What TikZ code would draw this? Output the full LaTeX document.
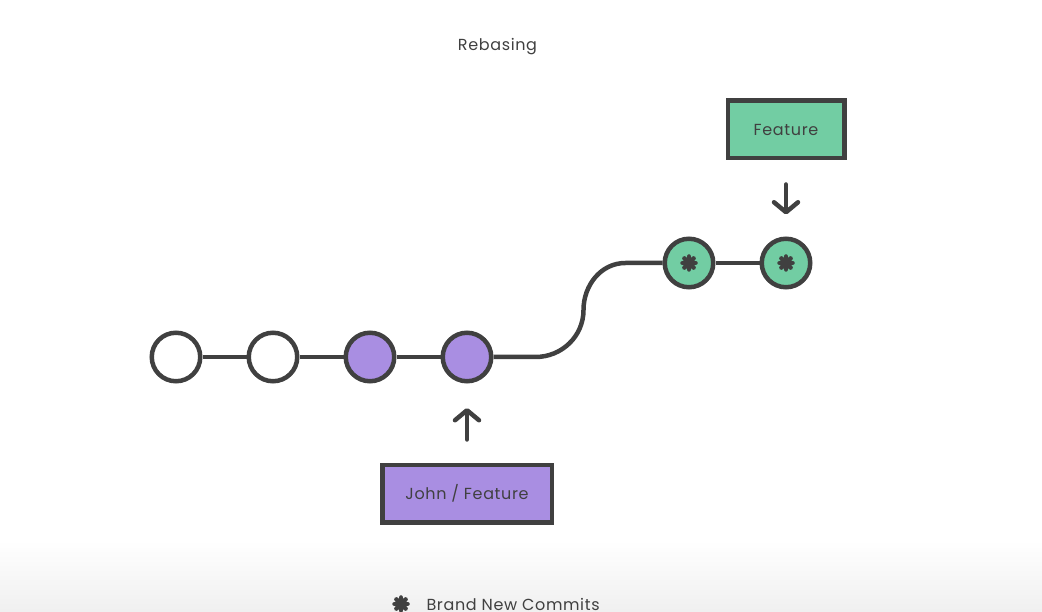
\documentclass[tikz,border=0pt]{standalone}
\usepackage{fontspec}
\setmainfont{Poppins}[LetterSpace=4]
\usepackage{tikz}
\usetikzlibrary{positioning, arrows.meta}
\definecolor{ink}{HTML}{404040}
\definecolor{johnpurple}{HTML}{A98EE2}
\definecolor{featgreen}{HTML}{72CDA3}
\tikzstyle{commit} = [circle, minimum size=48.5pt, inner sep=0pt, draw=ink, line width=4.5pt, fill=white]
\tikzstyle{johncommit} = [commit, fill=johnpurple]
\tikzstyle{newcommit} = [commit, fill=featgreen]
\tikzstyle{branch} = [rectangle, minimum height=57.5pt, inner sep=0pt, text height=11.5pt, text depth=0pt, draw=ink, line width=4.5pt, text=ink, font=\fontsize{16}{19}\selectfont]
\tikzstyle{label} = [text=ink, font=\fontsize{16}{19}\selectfont]
\tikzstyle{link} = [draw=ink, line width=4.5pt]
\tikzstyle{arrow} = [draw=ink, line width=4.5pt, line cap=round, -{Straight Barb[length=10pt, width=24pt, round]}]
\newcommand{\commitstar}[1]{%
  \foreach \a in {0,45,90,135}
    \draw [ink, line width=4.5pt, line cap=round] (#1) ++(\a:6.5pt) -- ++(\a+180:13pt);
  \fill [ink] (#1) circle (5pt);
}

\begin{document}
\begin{tikzpicture}[x=1pt, y=1pt, node distance=97pt]
\useasboundingbox (0,0) rectangle (1042,612);
\shade [top color=white, bottom color=gray!12] (0,0) rectangle (1042,72);

\node (title) [label, anchor=base] at (497.5,561) {Rebasing};

% old commits and John's commits
\node (c1) [commit] at (176,255) {};
\node (c2) [commit, right of=c1] {};
\node (c3) [johncommit, right of=c2] {};
\node (c4) [johncommit, right of=c3] {};
\draw [link] (c1) -- (c2);
\draw [link] (c2) -- (c3);
\draw [link] (c3) -- (c4);

% rebased commits
\node (g1) [newcommit, right of=c4, xshift=125pt, yshift=94pt] {};
\node (g2) [newcommit, right of=g1] {};
\draw [link] (g1) -- (g2);
\draw [link] (c4.east) -- ++(42pt,0) to[out=0,in=-90] ++(48pt,47pt) to[out=90,in=180] ++(42pt,47pt) -- (g1.west);
\commitstar{g1.center}
\commitstar{g2.center}

% branch labels
\node (john) [branch, fill=johnpurple, minimum width=169.5pt, below of=c4, yshift=-40pt] {John / Feature};
\draw [arrow, shorten <=23.5pt, shorten >=24.5pt] (john) -- (c4);
\node (feature) [branch, fill=featgreen, minimum width=116.5pt, above of=g2, yshift=36.5pt] {Feature};
\draw [arrow, shorten <=24pt, shorten >=22pt] (feature) -- (g2);

% legend
\coordinate (legendmark) at (401,8);
\commitstar{legendmark}
\node (legend) [label, anchor=base west] at (423,1.5) {Brand New Commits};
\end{tikzpicture}
\end{document}
